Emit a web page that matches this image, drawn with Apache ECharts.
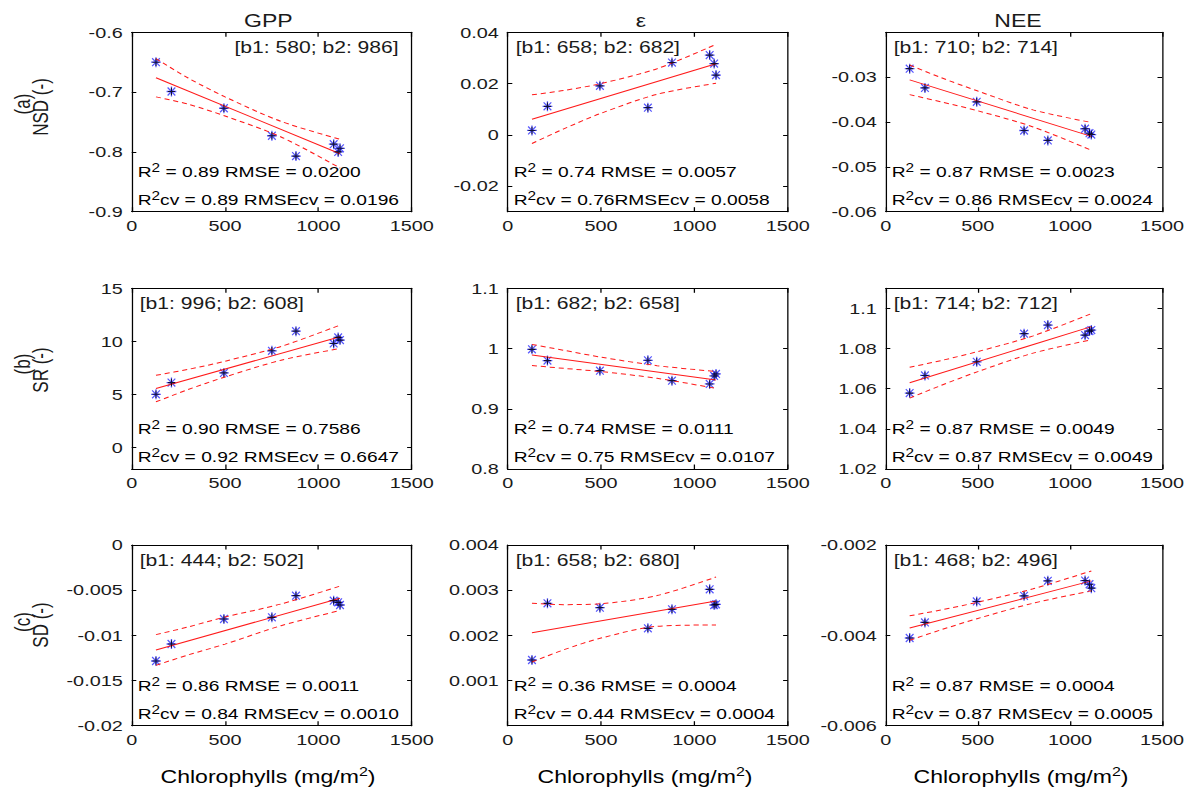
<!DOCTYPE html>
<html><head><meta charset="utf-8">
<script src="https://cdn.jsdelivr.net/npm/echarts@6/dist/echarts.min.js"></script>
<style>
html,body{margin:0;padding:0;background:#fff;overflow:hidden}
#wrap{width:1188px;height:791px;overflow:hidden;position:relative;background:#fff}
#c{position:absolute;left:0;top:0;height:791px;transform-origin:0 0}
</style></head><body>
<div id="wrap"><div id="c"></div></div>
<script>
// horizontal stretch of the original figure
const S = 1.28;

// ---------- DATA ----------
const chlX  = [130, 213, 494, 751, 880, 1082, 1106, 1116];   // chlorophylls (mg/m2)
const fitX  = [130, 1116];
const bandX = [130, 300, 500, 800, 1116];
const xTicks = [0, 500, 1000, 1500];
const colTitles = ['GPP', 'ε', 'NEE'];
const rowTags  = ['(a)', '(b)', '(c)'];
const rowNames = ['NSD (-)', 'SR (-)', 'SD (-)'];

// (a) NSD
const nsdGPP = [-0.650, -0.699, -0.727, -0.773, -0.807, -0.787, -0.800, -0.794];
const fitNsdGPP = [-0.676, -0.803];
const upNsdGPP  = [-0.644, -0.676, -0.708, -0.749, -0.779];
const loNsdGPP  = [-0.708, -0.720, -0.740, -0.775, -0.827];
const ticksNsdGPP = [-0.9, -0.8, -0.7, -0.6];

const nsdEPS = [0.0017, 0.0111, 0.0191, 0.0106, 0.0282, 0.0311, 0.0278, 0.0233];
const fitNsdEPS = [0.0061, 0.0277];
const upNsdEPS  = [0.0156, 0.0173, 0.0200, 0.0258, 0.0353];
const loNsdEPS  = [-0.0034, 0.0023, 0.0084, 0.0158, 0.0201];
const ticksNsdEPS = [-0.02, 0, 0.02, 0.04];

const nsdNEE = [-0.0281, -0.0324, -0.0355, -0.0419, -0.0441, -0.0415, -0.0425, -0.0428];
const fitNsdNEE = [-0.0306, -0.0432];
const upNsdNEE  = [-0.0273, -0.0301, -0.0331, -0.0373, -0.0401];
const loNsdNEE  = [-0.0339, -0.0355, -0.0375, -0.0411, -0.0463];
const ticksNsdNEE = [-0.06, -0.05, -0.04, -0.03];

// (b) SR
const srGPP = [5.03, 6.13, 7.04, 9.12, 10.97, 9.81, 10.38, 10.13];
const fitSrGPP = [5.57, 10.44];
const upSrGPP  = [6.82, 7.36, 8.14, 9.53, 11.54];
const loSrGPP  = [4.32, 5.46, 6.66, 8.23, 9.34];
const ticksSrGPP = [0, 5, 10, 15];

const srEPS = [0.9987, 0.9800, 0.9633, 0.9805, 0.9467, 0.9412, 0.9545, 0.9578];
const fitSrEPS = [0.9893, 0.9478];
const upSrEPS  = [1.0068, 0.9971, 0.9857, 0.9716, 0.9618];
const loSrEPS  = [0.9718, 0.9671, 0.9617, 0.9506, 0.9338];
const ticksSrEPS = [0.8, 0.9, 1, 1.1];

const srNEE = [1.0578, 1.0666, 1.0734, 1.0874, 1.0917, 1.0867, 1.0887, 1.0892];
const fitSrNEE = [1.0630, 1.0909];
const upSrNEE  = [1.0707, 1.0740, 1.0785, 1.0863, 1.0974];
const loSrNEE  = [1.0553, 1.0616, 1.0685, 1.0777, 1.0844];
const ticksSrNEE = [1.02, 1.04, 1.06, 1.08, 1.1];

// (c) SD
const sdGPP = [-0.01284, -0.01096, -0.00819, -0.00801, -0.00561, -0.00616, -0.00635, -0.00664];
const fitSdGPP = [-0.01162, -0.0059];
const upSdGPP  = [-0.00992, -0.00908, -0.00797, -0.00653, -0.00455];
const loSdGPP  = [-0.01332, -0.01218, -0.01097, -0.00893, -0.00725];
const ticksSdGPP = [-0.02, -0.015, -0.01, -0.005, 0];

const sdEPS = [0.001454, 0.002708, 0.002613, 0.002155, 0.002576, 0.003018, 0.002672, 0.002686];
const fitSdEPS = [0.00206, 0.00276];
const upSdEPS  = [0.00271, 0.00268, 0.00270, 0.00288, 0.00329];
const loSdEPS  = [0.00141, 0.00168, 0.00194, 0.00220, 0.00223];
const ticksSdEPS = [0.001, 0.002, 0.003, 0.004];

const sdNEE = [-0.004059, -0.003713, -0.003250, -0.003125, -0.002794, -0.002787, -0.002868, -0.002956];
const fitSdNEE = [-0.003838, -0.002794];
const upSdNEE  = [-0.003568, -0.003438, -0.003266, -0.002969, -0.002574];
const loSdNEE  = [-0.004108, -0.003878, -0.003626, -0.003289, -0.003014];
const ticksSdNEE = [-0.006, -0.004, -0.002];

const yRanges = [[-0.9, -0.6], [-0.03, 0.04], [-0.06, -0.02],
                 [-2, 15], [0.8, 1.1], [1.02, 1.11],
                 [-0.02, 0], [0, 0.004], [-0.006, -0.002]];
const bandLabels = ['[b1: 580; b2: 986]', '[b1: 658; b2: 682]', '[b1: 710; b2: 714]',
                    '[b1: 996; b2: 608]', '[b1: 682; b2: 658]', '[b1: 714; b2: 712]',
                    '[b1: 444; b2: 502]', '[b1: 658; b2: 680]', '[b1: 468; b2: 496]'];
const statLine1 = [' = 0.89 RMSE = 0.0200', ' = 0.74 RMSE = 0.0057', ' = 0.87 RMSE = 0.0023',
                   ' = 0.90 RMSE = 0.7586', ' = 0.74 RMSE = 0.0111', ' = 0.87 RMSE = 0.0049',
                   ' = 0.86 RMSE = 0.0011', ' = 0.36 RMSE = 0.0004', ' = 0.87 RMSE = 0.0004'];
const statLine2 = ['cv = 0.89 RMSEcv = 0.0196', 'cv = 0.76RMSEcv = 0.0058', 'cv = 0.86 RMSEcv = 0.0024',
                   'cv = 0.92 RMSEcv = 0.6647', 'cv = 0.75 RMSEcv = 0.0107', 'cv = 0.87 RMSEcv = 0.0049',
                   'cv = 0.84 RMSEcv = 0.0010', 'cv = 0.44 RMSEcv = 0.0004', 'cv = 0.87 RMSEcv = 0.0005'];

const panels = [
  [nsdGPP, fitNsdGPP, upNsdGPP, loNsdGPP, ticksNsdGPP],
  [nsdEPS, fitNsdEPS, upNsdEPS, loNsdEPS, ticksNsdEPS],
  [nsdNEE, fitNsdNEE, upNsdNEE, loNsdNEE, ticksNsdNEE],
  [srGPP, fitSrGPP, upSrGPP, loSrGPP, ticksSrGPP],
  [srEPS, fitSrEPS, upSrEPS, loSrEPS, ticksSrEPS],
  [srNEE, fitSrNEE, upSrNEE, loSrNEE, ticksSrNEE],
  [sdGPP, fitSdGPP, upSdGPP, loSdGPP, ticksSdGPP],
  [sdEPS, fitSdEPS, upSdEPS, loSdEPS, ticksSdEPS],
  [sdNEE, fitSdNEE, upSdNEE, loSdNEE, ticksSdNEE]
];

// ---------- LAYOUT (figure pixels) ----------
const colLeft = [131.7, 507.7, 885.7];
const colW    = [280, 280, 277.6];
const rowTop  = [32.3, 288.3, 545];
const rowH    = [179.4, 180.7, 180.7];
const FONT = "'Liberation Sans', Arial, sans-serif";
const TXT = '#1a1a1a';

const el = document.getElementById('c');
el.style.width = (1188 / S) + 'px';
el.style.transform = 'scaleX(' + S + ')';
const chart = echarts.init(el, null, {renderer: 'svg', width: 1188 / S, height: 791});

const zip = (a, b) => a.map((v, i) => [v, b[i]]);
const fmt = v => String(+(+v).toPrecision(6));
const STAR = 'path://M8.7,0H11.3V20H8.7Z M0,8.7H20V11.3H0Z M1.2,3.0L3.0,1.2L18.8,17.0L17.0,18.8Z M17.0,1.2L18.8,3.0L3.0,18.8L1.2,17.0Z';
const PLUS = 'path://M8.5,0H11.5V20H8.5Z M0,8.5H20V11.5H0Z';

const grid = [], xAxis = [], yAxis = [], series = [], graphic = [];
const richN = {fontSize: 15, fontFamily: FONT, color: TXT, lineHeight: 20};
const richS = {fontSize: 12, fontFamily: FONT, color: TXT, lineHeight: 9, verticalAlign: 'top'};

panels.forEach((p, i) => {
  const r = Math.floor(i / 3), c = i % 3;
  const [yv, fit, up, lo, ticks] = p;
  grid.push({left: colLeft[c] / S, top: rowTop[r], width: colW[c] / S, height: rowH[r]});
  const axLine = {show: true, onZero: false, lineStyle: {color: '#000', width: 1}};
  const base = {gridIndex: i, type: 'value', splitLine: {show: false}, axisLine: axLine};
  xAxis.push(Object.assign({}, base, {position: 'bottom', min: 0, max: 1500,
    axisTick: {show: true, inside: true, length: 4.5, customValues: xTicks, lineStyle: {color: '#000'}},
    axisLabel: {show: true, margin: 6, fontSize: 15.5, fontFamily: FONT, color: TXT,
      customValues: xTicks, formatter: fmt}}));
  xAxis.push(Object.assign({}, base, {position: 'top', min: 0, max: 1500,
    axisTick: {show: true, inside: true, length: 4.5, customValues: xTicks, lineStyle: {color: '#000'}},
    axisLabel: {show: false}}));
  const [ymin, ymax] = yRanges[i];
  yAxis.push(Object.assign({}, base, {position: 'left', min: ymin, max: ymax,
    axisTick: {show: true, inside: true, length: 3.6, customValues: ticks, lineStyle: {color: '#000'}},
    axisLabel: {show: true, margin: 7, fontSize: 15.5, fontFamily: FONT, color: TXT, customValues: ticks, formatter: fmt}}));
  yAxis.push(Object.assign({}, base, {position: 'right', min: ymin, max: ymax,
    axisTick: {show: true, inside: true, length: 3.6, customValues: ticks, lineStyle: {color: '#000'}},
    axisLabel: {show: false}}));
  const xi = 2 * i, yi = 2 * i;
  series.push({type: 'scatter', xAxisIndex: xi, yAxisIndex: yi, data: zip(chlX, yv), symbol: STAR,
    symbolSize: [7.6, 10], itemStyle: {color: '#2a2aff'}, z: 2, silent: true});
  series.push({type: 'line', xAxisIndex: xi, yAxisIndex: yi, data: zip(fitX, fit), symbol: 'none',
    lineStyle: {color: '#ff1a1a', width: 1}, z: 3, silent: true});
  series.push({type: 'line', xAxisIndex: xi, yAxisIndex: yi, data: zip(bandX, up), symbol: 'none', smooth: 0.3,
    lineStyle: {color: '#ff1a1a', width: 1, type: [4, 3]}, z: 3, silent: true});
  series.push({type: 'line', xAxisIndex: xi, yAxisIndex: yi, data: zip(bandX, lo), symbol: 'none', smooth: 0.3,
    lineStyle: {color: '#ff1a1a', width: 1, type: [4, 3]}, z: 3, silent: true});
  series.push({type: 'scatter', xAxisIndex: xi, yAxisIndex: yi, data: zip(chlX, yv), symbol: PLUS,
    symbolSize: [5.6, 7.5], itemStyle: {color: '#000'}, z: 4, silent: true});

  // annotations
  const gl = colLeft[c], gt = rowTop[r], gb = rowTop[r] + rowH[r];
  const right = (i === 0);
  graphic.push({type: 'text', silent: true, z: 10,
    x: right ? (gl + colW[c] - 13) / S : (gl + 8) / S, y: gt + 15,
    style: {text: bandLabels[i], font: '16.5px ' + FONT, fill: TXT,
      textAlign: right ? 'right' : 'left', textVerticalAlign: 'middle'}});
  graphic.push({type: 'text', silent: true, z: 10, x: (gl + 6) / S, y: gb - 40,
    style: {text: '{n|R}{s|2}{n|' + statLine1[i] + '}', rich: {n: richN, s: richS},
      textAlign: 'left', textVerticalAlign: 'middle'}});
  graphic.push({type: 'text', silent: true, z: 10, x: (gl + 6) / S, y: gb - 12,
    style: {text: '{n|R}{s|2}{n|' + statLine2[i] + '}', rich: {n: richN, s: richS},
      textAlign: 'left', textVerticalAlign: 'middle'}});
});

// column titles and x-axis names
const titleX = [268.3, 641, 1018];
const xNameX = [268, 645, 1021];
for (let c = 0; c < 3; c++) {
  graphic.push({type: 'text', silent: true, x: titleX[c] / S, y: 20,
    style: {text: colTitles[c], font: '18px ' + FONT, fill: TXT, textAlign: 'center', textVerticalAlign: 'middle'}});
  graphic.push({type: 'text', silent: true, x: xNameX[c] / S, y: 776,
    style: {text: '{n|Chlorophylls (mg/m}{s|2}{n|)}',
      rich: {n: {fontSize: 18, fontFamily: FONT, color: TXT, lineHeight: 22},
             s: {fontSize: 12.5, fontFamily: FONT, color: TXT, lineHeight: 10, verticalAlign: 'top'}},
      textAlign: 'center', textVerticalAlign: 'middle'}});
}
// row labels
const tagY = [104, 364, 622], nameY = [107, 370, 625];
for (let r = 0; r < 3; r++) {
  graphic.push({type: 'text', silent: true, x: 22 / S, y: tagY[r], rotation: Math.PI / 2,
    style: {text: rowTags[r], font: '17px ' + FONT, fill: TXT, textAlign: 'center', textVerticalAlign: 'middle'}});
  graphic.push({type: 'text', silent: true, x: 40 / S, y: nameY[r], rotation: Math.PI / 2,
    style: {text: rowNames[r], font: '17px ' + FONT, fill: TXT, textAlign: 'center', textVerticalAlign: 'middle'}});
}

chart.setOption({animation: false, backgroundColor: '#fff', grid, xAxis, yAxis, series, graphic});
</script>
</body></html>
